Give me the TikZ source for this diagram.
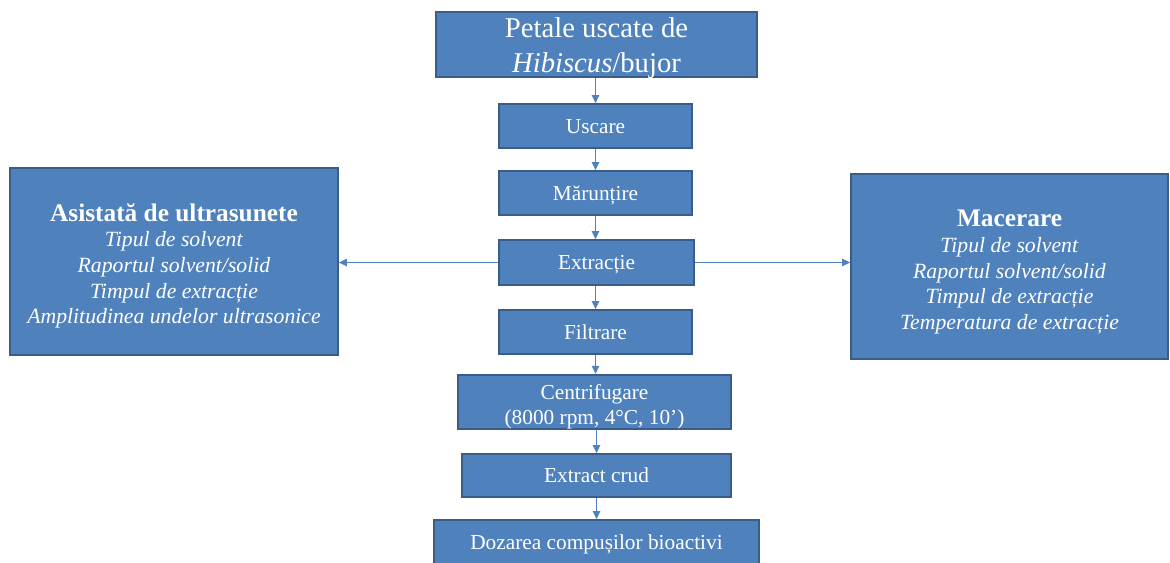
\documentclass[tikz,border=0pt]{standalone}
\usepackage{fontspec}
\setmainfont{Liberation Serif}
\usetikzlibrary{arrows.meta}
\definecolor{boxblue}{HTML}{4F81BD}
\definecolor{boxedge}{HTML}{385D8A}
\begin{document}
\begin{tikzpicture}[x=0.75pt,y=-0.75pt,
	etapa/.style={draw=boxedge,line width=1.3pt,fill=boxblue,text=white,inner sep=0pt,align=center,font=\fontsize{16}{19}\selectfont},
	linie/.style={etapa,text height=12.5pt,text depth=2pt},
	metoda/.style={etapa,font=\fontsize{16.3}{19.3}\selectfont},
	sageata/.style={draw=boxblue,line width=1.1pt,-{Triangle[length=6pt,width=5.5pt]}}]
	\useasboundingbox (0,0) rectangle (1170,562);
	\node[etapa,minimum width=240.75pt,minimum height=48.75pt,font=\fontsize{21.5}{26}\selectfont] (petale) at (596.5,44.5) {\rule{0pt}{16pt}Petale uscate de\\\smash{\textit{Hibiscus}/bujor}};
	\node[linie,minimum width=144.75pt,minimum height=33pt] (uscare) at (595.5,126) {Uscare};
	\node[linie,minimum width=144.75pt,minimum height=33pt] (maruntire) at (595.5,193) {Mărunțire};
	\node[linie,minimum width=146.25pt,minimum height=33.75pt] (extractie) at (596.5,262.5) {Extracție};
	\node[linie,minimum width=144.75pt,minimum height=33pt] (filtrare) at (595.5,332) {Filtrare};
	\node[etapa,minimum width=204.75pt,minimum height=40.5pt] (centrifugare) at (594.5,402) {\rule{0pt}{18.5pt}Centrifugare\\(8000 rpm, 4°C, 10’)};
	\node[linie,minimum width=201.75pt,minimum height=32.25pt] (crud) at (596.5,475.5) {Extract crud};
	\node[linie,minimum width=243.75pt,minimum height=33pt] (dozare) at (596.5,542) {Dozarea compușilor bioactivi};
	\node[metoda,minimum width=246pt,minimum height=140.25pt] (ultrasunete) at (174,261.5) {\rule{0pt}{20pt}\textbf{\fontsize{19}{19.3}\selectfont Asistată de ultrasunete}\\\textit{Tipul de solvent}\\\textit{Raportul solvent/solid}\\\textit{Timpul de extracție}\\\textit{Amplitudinea undelor ultrasonice}};
	\node[metoda,minimum width=237.75pt,minimum height=138.75pt] (macerare) at (1009.5,266.5) {\rule{0pt}{21pt}\textbf{\fontsize{19}{19.3}\selectfont Macerare}\\\textit{Tipul de solvent}\\\textit{Raportul solvent/solid}\\\textit{Timpul de extracție}\\\textit{Temperatura de extracție}};
	\draw[sageata] (petale.south -| uscare) -- (uscare.north);
	\draw[sageata] (uscare) -- (maruntire);
	\draw[sageata] (maruntire.south) -- (extractie.north -| maruntire);
	\draw[sageata] (extractie.south -| filtrare) -- (filtrare.north);
	\draw[sageata] (filtrare.south) -- (centrifugare.north -| filtrare);
	\draw[sageata] (centrifugare.south -| crud) -- (crud.north);
	\draw[sageata] (crud) -- (dozare);
	\draw[sageata] (extractie.west) -- (ultrasunete.east |- extractie);
	\draw[sageata] (extractie.east) -- (macerare.west |- extractie);
\end{tikzpicture}
\end{document}
